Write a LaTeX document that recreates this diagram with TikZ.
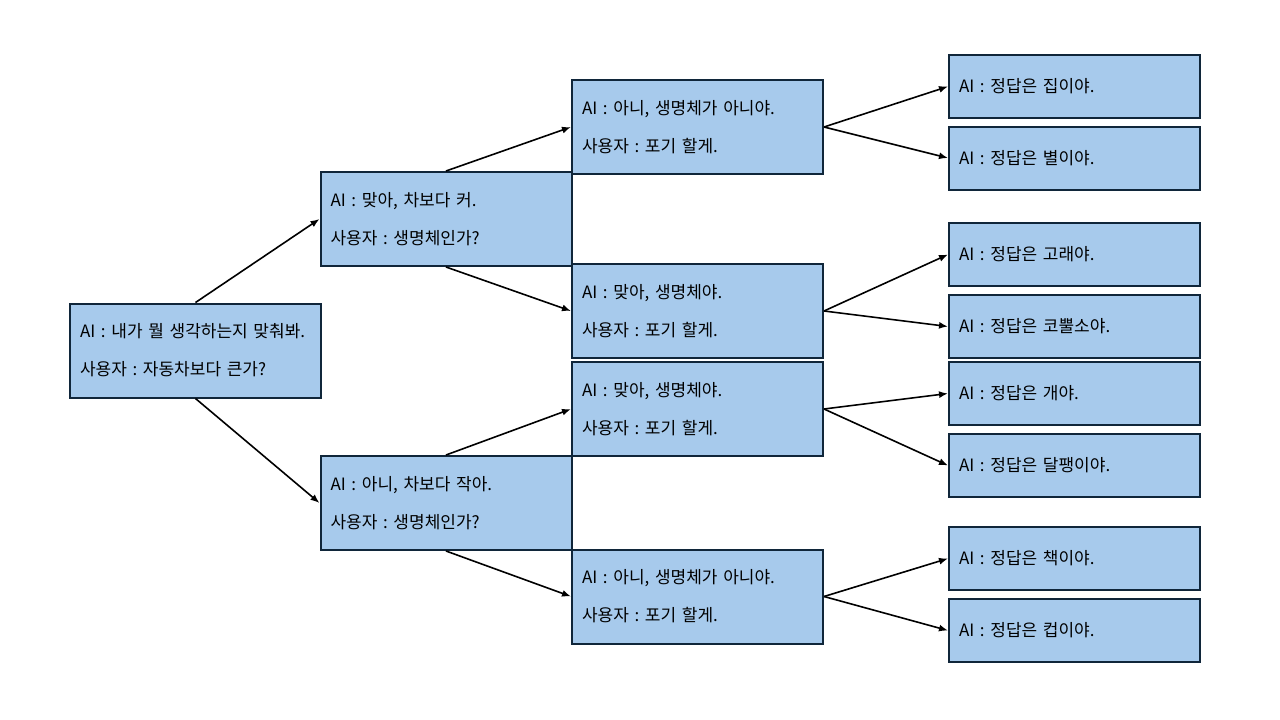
\documentclass[tikz,border=0pt]{standalone}
\usepackage{fontspec}
\newfontfamily\kr{Noto Sans CJK KR}
\usetikzlibrary{arrows.meta}
\begin{document}
\begin{tikzpicture}[
  x=1pt, y=-1pt,
  every node/.style = {shape=rectangle, draw=boxline, line width=2pt,
    fill=boxfill, align=left, inner sep=0pt, text width=231pt,
    font=\kr\frenchspacing\fontsize{17}{38}\selectfont},
  question/.style = {minimum width=251pt, minimum height=94pt},
  answer/.style = {minimum width=251pt, minimum height=63pt},
  link/.style = {line width=1.6pt, -{Latex[length=9pt,width=7pt]}}
  ]
  \definecolor{boxfill}{RGB}{167,202,236}
  \definecolor{boxline}{RGB}{16,38,58}
  \useasboundingbox (0,0) rectangle (1280,720);
  \node[question] (root) at (195.5,350.5) {AI : 내가 뭘 생각하는지 맞춰봐.\\사용자 : 자동차보다 큰가?};
  \node[question] (big) at (446,219) {AI : 맞아, 차보다 커.\\사용자 : 생명체인가?};
  \node[question] (small) at (446,503) {AI : 아니, 차보다 작아.\\사용자 : 생명체인가?};
  \node[question] (bignot) at (697.5,127) {AI : 아니, 생명체가 아니야.\\사용자 : 포기 할게.};
  \node[question] (bigalive) at (697.5,311) {AI : 맞아, 생명체야.\\사용자 : 포기 할게.};
  \node[question] (smallalive) at (697.5,409) {AI : 맞아, 생명체야.\\사용자 : 포기 할게.};
  \node[question] (smallnot) at (697.5,596.5) {AI : 아니, 생명체가 아니야.\\사용자 : 포기 할게.};
  \node[answer] (house) at (1074.5,86.5) {AI : 정답은 집이야.};
  \node[answer] (star) at (1074.5,158) {AI : 정답은 별이야.};
  \node[answer] (whale) at (1074.5,254.5) {AI : 정답은 고래야.};
  \node[answer] (rhino) at (1074.5,326.5) {AI : 정답은 코뿔소야.};
  \node[answer] (dog) at (1074.5,393.5) {AI : 정답은 개야.};
  \node[answer] (snail) at (1074.5,465.5) {AI : 정답은 달팽이야.};
  \node[answer] (book) at (1074.5,558.5) {AI : 정답은 책이야.};
  \node[answer] (cup) at (1074.5,630.5) {AI : 정답은 컵이야.};
  \draw[link] (root.north) -- (big.west);
  \draw[link] (root.south) -- (small.west);
  \draw[link] (big.north) -- (bignot.west);
  \draw[link] (big.south) -- (bigalive.west);
  \draw[link] (small.north) -- (smallalive.west);
  \draw[link] (small.south) -- (smallnot.west);
  \draw[link] (bignot.east) -- (house.west);
  \draw[link] (bignot.east) -- (star.west);
  \draw[link] (bigalive.east) -- (whale.west);
  \draw[link] (bigalive.east) -- (rhino.west);
  \draw[link] (smallalive.east) -- (dog.west);
  \draw[link] (smallalive.east) -- (snail.west);
  \draw[link] (smallnot.east) -- (book.west);
  \draw[link] (smallnot.east) -- (cup.west);
\end{tikzpicture}
\end{document}
